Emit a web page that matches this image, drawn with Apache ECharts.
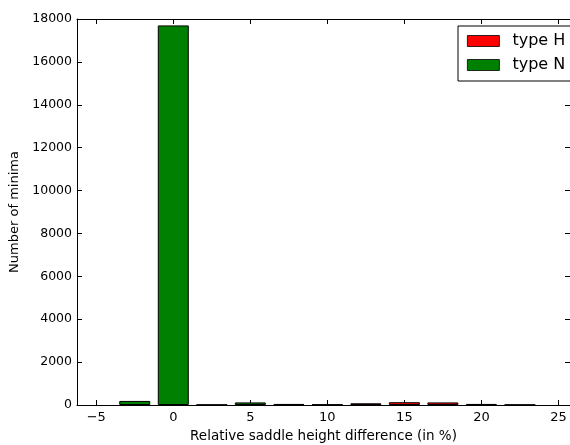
<!DOCTYPE html>
<html>
<head>
<meta charset="utf-8">
<script src="https://cdn.jsdelivr.net/npm/echarts@6/dist/echarts.min.js"></script>
<style>
  html, body { margin: 0; padding: 0; background: #fff; }
  #chart { width: 570px; height: 445px; }
</style>
</head>
<body>
<div id="chart"></div>
<script>
// Histogram bin centres (relative saddle height difference, %)
const binsN = [-2.5, 0, 2.5, 5, 7.5, 10];
const countsN = [190, 17700, 15, 120, 50, 25];
const binsH = [12.5, 15, 17.5, 20, 22.5];
const countsH = [80, 130, 120, 50, 15];
const xTicks = [-5, 0, 5, 10, 15, 20, 25];
const yTicks = [0, 2000, 4000, 6000, 8000, 10000, 12000, 14000, 16000, 18000];

const FONT = 'DejaVu Sans';
const X_MIN = -6.25, X_MAX = 25.75;
const chart = echarts.init(document.getElementById('chart'));

const pairs = (xs, ys) => xs.map((x, i) => [x, ys[i]]);
const tickStyle = { show: true, inside: true, length: 5, lineStyle: { color: '#000', width: 1 } };
const lineStyle = { show: true, onZero: false, lineStyle: { color: '#000', width: 1 } };
const fmtX = v => String(v).replace('-', '\u2212');
const fmtY = v => String(v);

chart.setOption({
  animation: false,
  backgroundColor: '#fff',
  grid: { left: 77, right: 0, top: 19, bottom: 40, containLabel: false, outerBoundsMode: 'none' },
  legend: {
    orient: 'vertical',
    left: 458, top: 26,
    padding: [7, 12, 8, 9],
    itemWidth: 32, itemHeight: 11, itemGap: 8,
    backgroundColor: '#fff',
    borderColor: '#000', borderWidth: 1,
    icon: 'rect',
    itemStyle: { borderColor: '#000', borderWidth: 0.8 },
    textStyle: { fontFamily: FONT, fontSize: 16, color: '#000', padding: [0, 0, 0, 8] },
    data: ['type H', 'type N']
  },
  xAxis: [{
    type: 'value', min: X_MIN, max: X_MAX, position: 'bottom',
    axisLine: lineStyle,
    axisTick: Object.assign({ customValues: xTicks }, tickStyle),
    axisLabel: { customValues: xTicks, formatter: fmtX, fontFamily: FONT, fontSize: 13, color: '#000', margin: 6 },
    splitLine: { show: false },
    name: 'Relative saddle height difference (in %)',
    nameLocation: 'middle', nameGap: 24,
    nameTextStyle: { fontFamily: FONT, fontSize: 13.5, color: '#000' }
  }, {
    type: 'value', min: X_MIN, max: X_MAX, position: 'top',
    axisLine: lineStyle,
    axisTick: Object.assign({ customValues: xTicks }, tickStyle),
    axisLabel: { show: false },
    splitLine: { show: false }
  }],
  yAxis: [{
    type: 'value', min: 0, max: 18000, position: 'left',
    axisLine: lineStyle,
    axisTick: Object.assign({ customValues: yTicks }, tickStyle),
    axisLabel: { customValues: yTicks, formatter: fmtY, fontFamily: FONT, fontSize: 12.5, color: '#000', margin: 5 },
    splitLine: { show: false },
    name: 'Number of minima',
    nameLocation: 'middle', nameGap: 50, nameRotate: 90,
    nameTextStyle: { fontFamily: FONT, fontSize: 13, color: '#000' }
  }, {
    type: 'value', min: 0, max: 18000, position: 'right',
    axisLine: lineStyle,
    axisTick: Object.assign({ customValues: yTicks }, tickStyle),
    axisLabel: { show: false },
    splitLine: { show: false }
  }],
  series: [{
    name: 'type H', type: 'bar',
    data: pairs(binsH, countsH),
    barWidth: 31, barGap: '-100%',
    itemStyle: { color: '#ff0000', borderColor: '#000', borderWidth: 1 }
  }, {
    name: 'type N', type: 'bar',
    data: pairs(binsN, countsN),
    barWidth: 31, barGap: '-100%',
    itemStyle: { color: '#008000', borderColor: '#000', borderWidth: 1 }
  }]
});
</script>
</body>
</html>
